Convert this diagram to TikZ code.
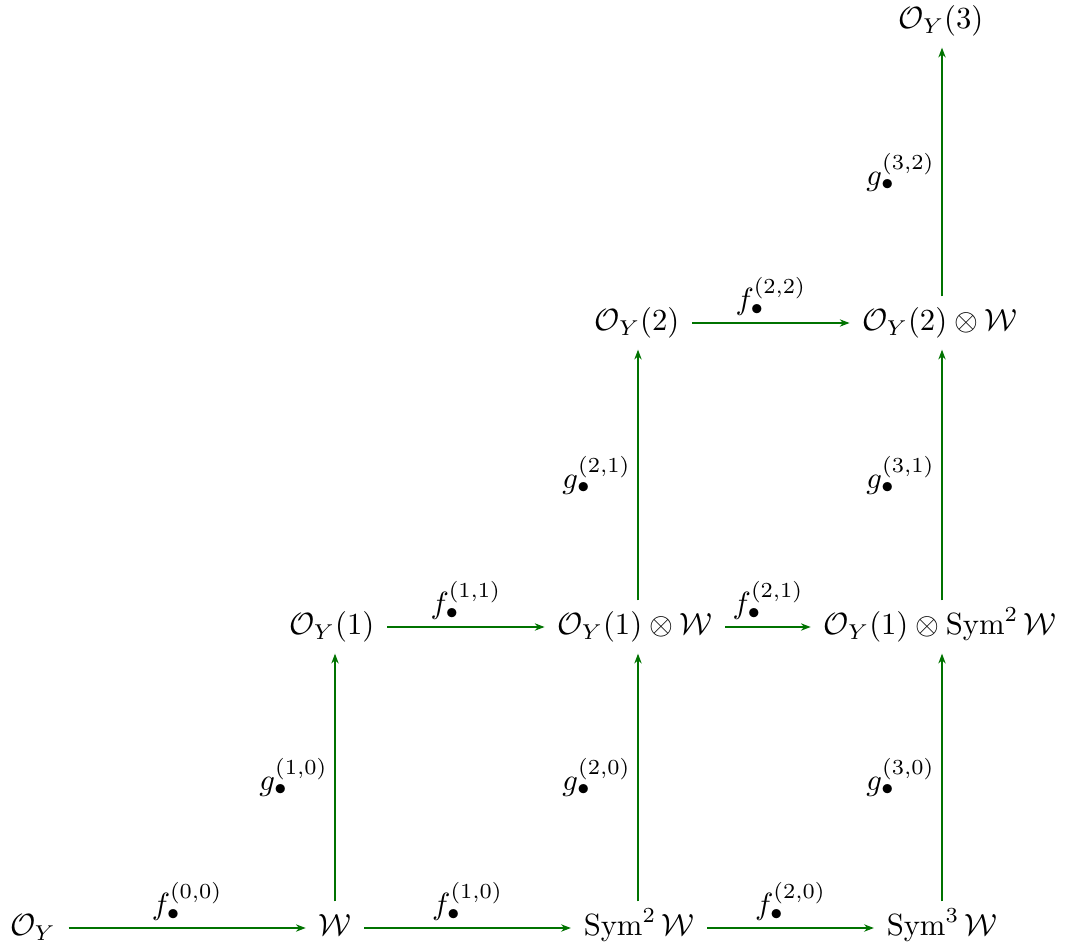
\documentclass[tikz,border=0pt]{standalone}
\usepackage{amsmath,amssymb}
\usetikzlibrary{arrows.meta}
\begin{document}
\begin{tikzpicture}[x=0.326pt,y=-0.326pt,
  obj/.style={inner sep=4pt,text height=7pt,text depth=2pt},
  map/.style={draw=green!45!black,line width=0.4pt,-{Stealth[length=3.2pt,width=2.4pt]}},
  lab/.style={text=black,inner sep=2.2pt}]
\useasboundingbox (0,0) rectangle (1072,949);
% nodes
\node[obj] (a00) at (33,928) {$\mathcal{O}_Y$};
\node[obj] (a10) at (335,928) {$\mathcal{W}$};
\node[obj] (a20) at (639,928) {$\operatorname{Sym}^2\mathcal{W}$};
\node[obj] (a30) at (942,928) {$\operatorname{Sym}^3\mathcal{W}$};
\node[obj] (a11) at (332,627) {$\mathcal{O}_Y(1)$};
\node[obj] (a21) at (635,627) {$\mathcal{O}_Y(1)\otimes\mathcal{W}$};
\node[obj] (a31) at (940,627) {$\mathcal{O}_Y(1)\otimes\operatorname{Sym}^2\mathcal{W}$};
\node[obj] (a22) at (637,323) {$\mathcal{O}_Y(2)$};
\node[obj] (a32) at (940,323) {$\mathcal{O}_Y(2)\otimes\mathcal{W}$};
\node[obj] (a33) at (941,21) {$\mathcal{O}_Y(3)$};
% horizontal maps
\draw[map] (a00) -- node[lab,above]{$f_\bullet^{(0,0)}$} (a10);
\draw[map] (a10) -- node[lab,above]{$f_\bullet^{(1,0)}$} (a20);
\draw[map] (a20) -- node[lab,above]{$f_\bullet^{(2,0)}$} (a30);
\draw[map] (a11) -- node[lab,above]{$f_\bullet^{(1,1)}$} (a21);
\draw[map] (a21) -- node[lab,above]{$f_\bullet^{(2,1)}$} (a31);
\draw[map] (a22) -- node[lab,above]{$f_\bullet^{(2,2)}$} (a32);
% vertical maps
\draw[map] (a10.north -| 335,0) -- node[lab,left]{$g_\bullet^{(1,0)}$} (a11.south -| 335,0);
\draw[map] (a20.north -| 638,0) -- node[lab,left]{$g_\bullet^{(2,0)}$} (a21.south -| 638,0);
\draw[map] (a30.north -| 942,0) -- node[lab,left]{$g_\bullet^{(3,0)}$} (a31.south -| 942,0);
\draw[map] (a21.north -| 638,0) -- node[lab,left]{$g_\bullet^{(2,1)}$} (a22.south -| 638,0);
\draw[map] (a31.north -| 942,0) -- node[lab,left]{$g_\bullet^{(3,1)}$} (a32.south -| 942,0);
\draw[map] (a32.north -| 942,0) -- node[lab,left]{$g_\bullet^{(3,2)}$} (a33.south -| 942,0);
\end{tikzpicture}
\end{document}
